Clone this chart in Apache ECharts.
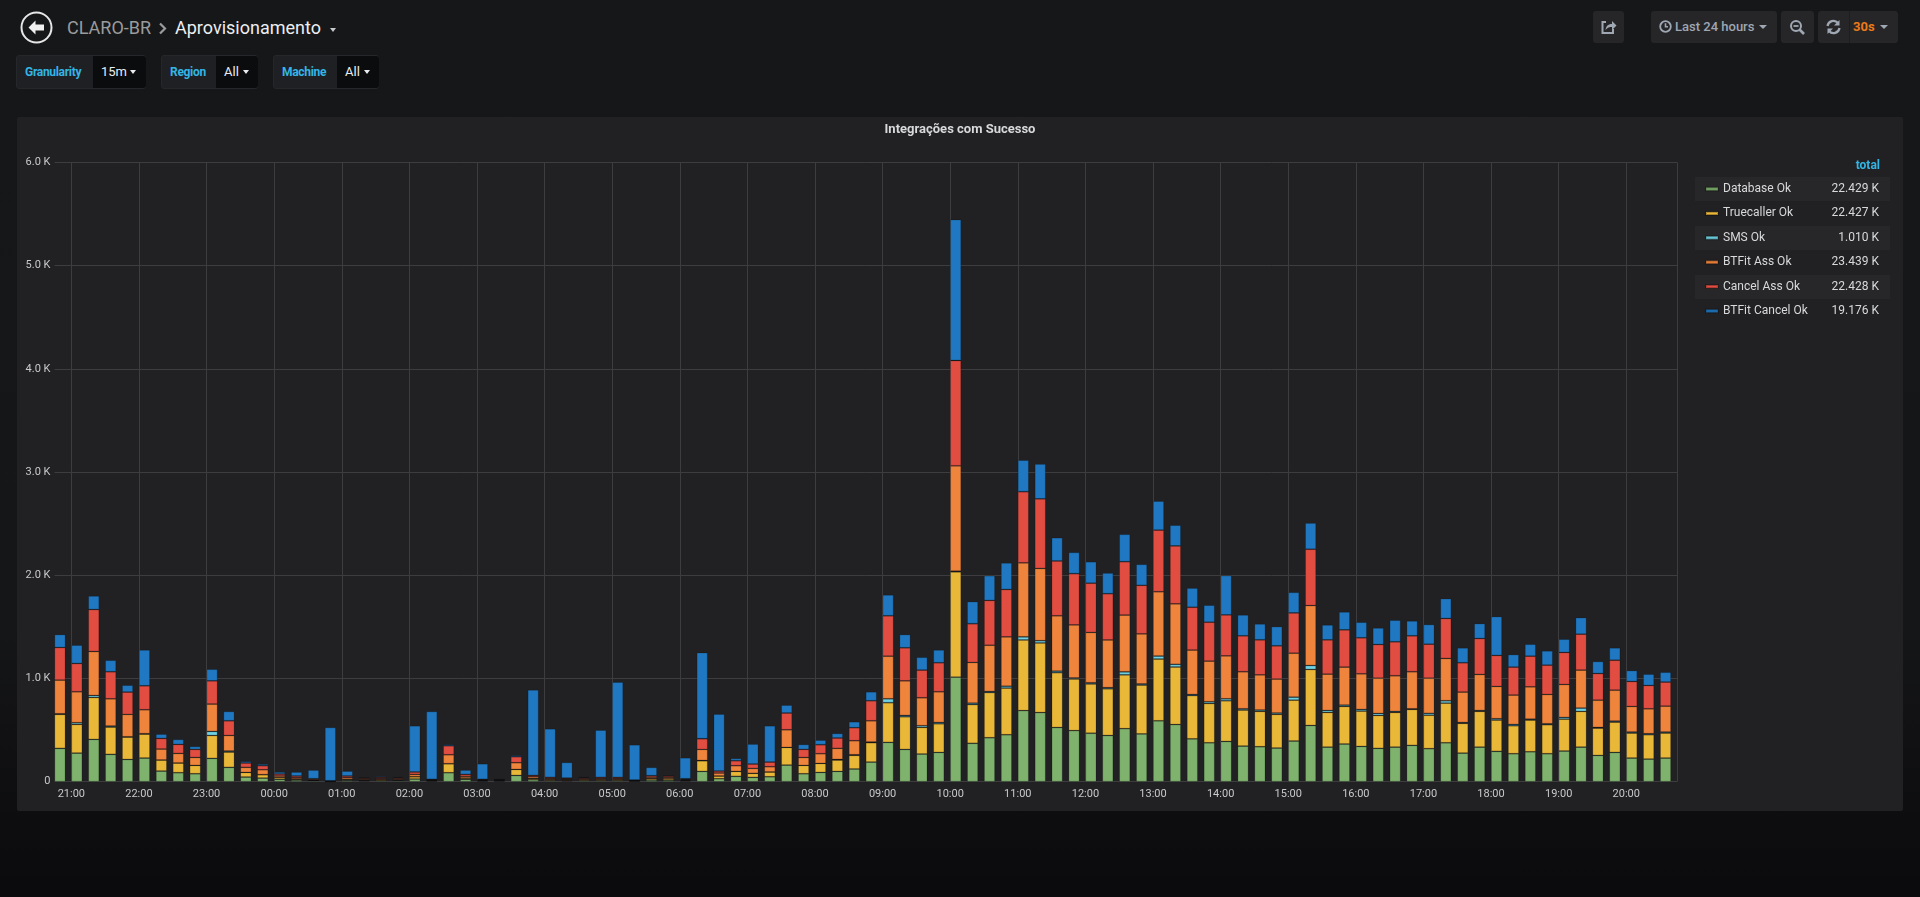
<!DOCTYPE html>
<html>
<head>
<meta charset="utf-8">
<title>Aprovisionamento</title>
<script src="https://cdn.jsdelivr.net/npm/echarts@6.0.0/dist/echarts.min.js"></script>
<style>
  html, body { margin: 0; padding: 0; }
  body {
    width: 1920px; height: 897px; overflow: hidden; position: relative;
    background: linear-gradient(#161719 0, #151618 70%, #0d0d0f 92%, #0b0b0d 100%);
    font-family: Roboto, "Noto Sans", sans-serif;
  }
  .abs { position: absolute; }
  .crumb { top: 15px; height: 26px; line-height: 26px; font-size: 18px; }
  .caret { width: 0; height: 0; border-left: 3.5px solid transparent; border-right: 3.5px solid transparent; border-top: 4px solid #c8c9ca; }
  .vbox { top: 55px; height: 34px; border: 1px solid #26272a; border-radius: 3px; box-sizing: border-box; background: #1f2023; }
  .vlabel { top: 0; height: 32px; line-height: 32px; font-size: 12px; font-weight: bold; color: #33b5e5; letter-spacing: -0.3px; }
  .vval { top: 0; height: 32px; background: #0b0c0e; border-radius: 0 3px 3px 0; }
  .vtext { top: 0; line-height: 32px; font-size: 13px; color: #e9edf2; }
  .btn { top: 11px; height: 32px; background: #262628; border-radius: 3px; }
  .legrow { left: 1695px; width: 195px; height: 24px; background: #27272a; }
</style>
</head>
<body>

<!-- dashboard header -->
<svg class="abs" style="left:20px;top:11px" width="33" height="33" viewBox="0 0 33 33">
  <circle cx="16.5" cy="16.5" r="15" fill="none" stroke="#e6e6e6" stroke-width="2"/>
  <path d="M8.5 16.5 L15.5 9.5 L15.5 13.5 L24 13.5 L24 19.5 L15.5 19.5 L15.5 23.5 Z" fill="#f0f0f0"/>
</svg>
<div class="abs crumb" style="left:67px;color:#9a9b9d">CLARO-BR</div>
<svg class="abs" style="left:158px;top:22px" width="10" height="13" viewBox="0 0 10 13">
  <path d="M2 1.5 L7 6.5 L2 11.5" fill="none" stroke="#9a9b9d" stroke-width="2.2"/>
</svg>
<div class="abs crumb" style="left:175px;color:#eceef1">Aprovisionamento</div>
<div class="abs caret" style="left:330px;top:28px"></div>

<!-- template variables -->
<div class="abs vbox" style="left:16px;width:130px">
  <div class="abs vlabel" style="left:8px">Granularity</div>
  <div class="abs vval" style="left:76px;width:53px">
    <div class="abs vtext" style="left:8px">15m</div>
    <div class="abs caret" style="left:37px;top:14px;border-top-color:#e9edf2"></div>
  </div>
</div>
<div class="abs vbox" style="left:161px;width:97px">
  <div class="abs vlabel" style="left:8px">Region</div>
  <div class="abs vval" style="left:54px;width:42px">
    <div class="abs vtext" style="left:8px">All</div>
    <div class="abs caret" style="left:27px;top:14px;border-top-color:#e9edf2"></div>
  </div>
</div>
<div class="abs vbox" style="left:273px;width:106px">
  <div class="abs vlabel" style="left:8px">Machine</div>
  <div class="abs vval" style="left:63px;width:42px">
    <div class="abs vtext" style="left:8px">All</div>
    <div class="abs caret" style="left:27px;top:14px;border-top-color:#e9edf2"></div>
  </div>
</div>

<!-- top right buttons -->
<div class="abs btn" style="left:1593px;width:31px">
  <svg class="abs" style="left:7px;top:8px" width="17" height="16" viewBox="0 0 17 16">
    <path d="M6 3 H2.5 V14 H13 V10" fill="none" stroke="#9fa7b3" stroke-width="2"/>
    <path d="M5.5 11 C6 6.5 9 5 12 5 V2 L16.5 6.5 L12 11 V8 C9.5 8 7.5 8.5 5.5 11 Z" fill="#9fa7b3"/>
  </svg>
</div>
<div class="abs btn" style="left:1651px;width:126px">
  <svg class="abs" style="left:8px;top:9px" width="13" height="13" viewBox="0 0 13 13">
    <circle cx="6.5" cy="6.5" r="5.3" fill="none" stroke="#9fa7b3" stroke-width="1.8"/>
    <path d="M6.5 3.3 V6.8 H9" fill="none" stroke="#9fa7b3" stroke-width="1.6"/>
  </svg>
  <div class="abs" style="left:24px;top:0;line-height:32px;font-size:13px;font-weight:500;color:#9fa7b3">Last 24 hours</div>
  <div class="abs caret" style="left:108px;top:14px;border-top-color:#9fa7b3;border-left-width:4px;border-right-width:4px"></div>
</div>
<div class="abs btn" style="left:1781px;width:33px">
  <svg class="abs" style="left:8px;top:8px" width="17" height="17" viewBox="0 0 17 17">
    <circle cx="7" cy="7" r="5" fill="none" stroke="#9fa7b3" stroke-width="2"/>
    <path d="M4.5 7 H9.5" stroke="#9fa7b3" stroke-width="1.8"/>
    <path d="M10.5 10.5 L15 15" stroke="#9fa7b3" stroke-width="2.6"/>
  </svg>
</div>
<div class="abs btn" style="left:1818px;width:80px">
  <svg class="abs" style="left:7px;top:8px" width="17" height="16" viewBox="0 0 17 16">
    <path d="M2.5 7 A6 6 0 0 1 13 4" fill="none" stroke="#9fa7b3" stroke-width="2.2"/>
    <path d="M14.5 1 V6.5 H9 Z" fill="#9fa7b3"/>
    <path d="M14.5 9 A6 6 0 0 1 4 12" fill="none" stroke="#9fa7b3" stroke-width="2.2"/>
    <path d="M2.5 15 V9.5 H8 Z" fill="#9fa7b3"/>
  </svg>
  <div class="abs" style="left:31px;top:0;width:1px;height:32px;background:#1d1e20"></div>
  <div class="abs" style="left:35px;top:0;line-height:32px;font-size:13px;font-weight:bold;color:#eb7b18">30s</div>
  <div class="abs caret" style="left:62px;top:14px;border-top-color:#9fa7b3;border-left-width:4px;border-right-width:4px"></div>
</div>

<!-- panel -->
<div class="abs" style="left:17px;top:117px;width:1886px;height:694px;background:#212124;border-radius:2px"></div>
<div class="abs legrow" style="top:177px"></div>
<div class="abs legrow" style="top:226px"></div>
<div class="abs legrow" style="top:275px"></div>

<div id="chart" class="abs" style="left:0;top:0;width:1920px;height:897px"></div>

<script>
// 15 minute buckets, last 24 hours
const categories = [
  '20:45','21:00','21:15','21:30','21:45','22:00','22:15','22:30','22:45','23:00','23:15','23:30',
  '23:45','00:00','00:15','00:30','00:45','01:00','01:15','01:30','01:45','02:00','02:15','02:30',
  '02:45','03:00','03:15','03:30','03:45','04:00','04:15','04:30','04:45','05:00','05:15','05:30',
  '05:45','06:00','06:15','06:30','06:45','07:00','07:15','07:30','07:45','08:00','08:15','08:30',
  '08:45','09:00','09:15','09:30','09:45','10:00','10:15','10:30','10:45','11:00','11:15','11:30',
  '11:45','12:00','12:15','12:30','12:45','13:00','13:15','13:30','13:45','14:00','14:15','14:30',
  '14:45','15:00','15:15','15:30','15:45','16:00','16:15','16:30','16:45','17:00','17:15','17:30',
  '17:45','18:00','18:15','18:30','18:45','19:00','19:15','19:30','19:45','20:00','20:15','20:30'
]

const seriesNames = ['Database Ok', 'Truecaller Ok', 'SMS Ok', 'BTFit Ass Ok', 'Cancel Ass Ok', 'BTFit Cancel Ok']
const seriesColors = ['#7eb26d', '#eab839', '#6ed0e0', '#ef843c', '#e24d42', '#1f78c1']
// legend "total" column
const legendTotals = [22429, 22427, 1010, 23439, 22428, 19176]

const databaseOk = [
  323,277,410,265,216,229,103,87,77,226, 139,45,35,23,16,10,2,13,8,10,
  10,26,5,87,23,5,5,61,19,10, 8,10,10,10,4,16,14,7,100,29,
  52,42,48,161,77,90,100,123,190,381, 313,268,284,1013,372,426,455,689,670,525,
  495,470,448,514,463,590,554,415,377,390, 345,339,326,394,545,335,365,342,323,335,
  352,320,377,277,335,294,271,290,271,297, 335,255,284,229,219,229
]
const truecallerOk = [
  329,278,406,264,216,232,107,94,81,222, 148,45,33,16,10,3,2,10,8,10,
  8,22,6,87,12,6,6,58,13,10, 9,10,10,10,4,14,14,7,103,26,
  48,39,46,171,81,87,110,132,188,384, 316,258,277,1020,375,437,452,684,674,531,
  500,477,452,521,473,598,557,419,381,394, 349,342,326,396,542,336,364,342,319,336,
  348,324,384,288,346,303,271,307,281,309, 346,264,293,242,236,242
]
const smsOk = [
  6,16,19,10,3,4,0,0,0,39, 10,0,0,0,0,0,0,0,0,0,
  0,0,0,0,0,0,0,0,0,0, 0,0,0,0,0,0,0,0,3,0,
  0,0,0,0,0,0,6,6,6,38, 13,16,13,7,14,11,18,30,22,15,
  10,11,11,29,11,29,26,11,16,19, 12,13,13,29,39,19,13,16,19,10,
  6,18,23,9,9,13,13,9,9,17, 32,7,10,10,10,10
]
const btfitAssOk = [
  326,300,426,264,217,232,106,93,77,265, 151,49,48,16,13,6,2,16,10,10,
  10,23,6,87,17,6,6,65,16,11, 9,10,11,11,4,14,14,7,107,29,
  55,48,51,171,77,94,107,136,206,413, 335,271,297,1020,394,448,478,717,700,536,
  514,488,462,550,485,623,586,430,394,416, 359,341,329,426,580,352,368,345,342,345,
  359,341,410,294,349,313,284,313,284,319, 368,264,300,248,241,251
]
const cancelAssOk = [
  316,274,407,262,216,232,103,87,78,225, 142,42,39,19,16,10,3,16,10,12,
  10,23,6,87,19,6,6,58,13,11, 9,10,11,11,4,14,13,8,103,19,
  48,42,45,162,78,87,100,126,194,391, 320,268,281,1020,375,434,459,689,674,531,
  496,477,448,517,470,597,561,415,377,397, 348,339,322,390,546,332,361,349,326,329,
  348,329,387,284,348,300,271,297,284,310, 348,258,290,242,226,233
]
const btfitCancelOk = [
  126,178,132,112,67,348,42,49,29,113, 91,16,16,20,39,84,517,48,3,10,
  7,448,658,13,42,151,0,13,829,471, 152,2,458,923,342,81,0,203,835,552,
  23,194,352,77,48,45,45,58,87,203, 129,125,125,1366,215,240,258,306,338,226,
  207,208,201,266,204,281,201,186,165,381, 203,155,187,200,254,145,174,151,161,210,
  145,191,193,145,145,377,122,116,139,129, 161,117,120,106,110,96
]

const seriesData = [databaseOk, truecallerOk, smsOk, btfitAssOk, cancelAssOk, btfitCancelOk]
const totalsByName = {}
seriesNames.forEach((n, i) => { totalsByName[n] = (legendTotals[i] / 1000).toFixed(3) + ' K' })

const isHour = (idx, val) => val.slice(3) === '00'

const chart = echarts.init(document.getElementById('chart'), null, { renderer: 'canvas' })
chart.setOption({
  backgroundColor: 'transparent',
  animation: false,
  textStyle: { fontFamily: 'Roboto, "Noto Sans", sans-serif' },
  title: {
    text: 'Integrações com Sucesso',
    left: 'center',
    top: 123,
    padding: 0,
    textStyle: { color: '#d8d9da', fontSize: 13, fontWeight: 'bold' }
  },
  graphic: [{
    type: 'text',
    right: 40,
    top: 160,
    style: { text: 'total', fill: '#33b5e5', font: 'bold 12px Roboto', textAlign: 'right' }
  }],
  legend: {
    orient: 'vertical',
    left: 1705,
    top: 177,
    padding: 0,
    itemGap: 0.4,
    itemWidth: 12,
    itemHeight: 3,
    itemTextGap: 7,
    icon: 'rect',
    data: seriesNames,
    formatter: name => '{n|' + name + '}{v|' + totalsByName[name] + '}',
    textStyle: {
      color: '#d8d9da',
      fontSize: 12,
      lineHeight: 24,
      rich: {
        n: { width: 100, fontSize: 12, lineHeight: 24, color: '#d8d9da' },
        v: { width: 56, fontSize: 12, lineHeight: 24, align: 'right', color: '#d8d9da' }
      }
    }
  },
  // grid 0 carries the visible axes, grid 1 (same size, shifted 3px left)
  // carries the bars so each bar starts at its bucket's time line
  grid: [
    { left: 54.5, right: 243, top: 162.3, bottom: 115.3, containLabel: false },
    { left: 51.5, right: 246, top: 162.3, bottom: 115.3, containLabel: false }
  ],
  xAxis: [{
    type: 'category',
    gridIndex: 0,
    data: categories,
    boundaryGap: true,
    axisLine: { show: false },
    axisTick: { show: false },
    axisLabel: {
      interval: isHour,
      color: '#c8c9ca',
      fontSize: 11,
      margin: 7,
      padding: [0, 17, 0, 0]
    },
    splitLine: { show: true, interval: isHour, lineStyle: { color: '#3d3d40', width: 1 } }
  }, {
    type: 'category',
    gridIndex: 1,
    data: categories,
    boundaryGap: true,
    show: false
  }],
  yAxis: [{
    type: 'value',
    gridIndex: 0,
    min: 0,
    max: 6000,
    interval: 1000,
    axisLine: { show: false },
    axisTick: { show: false },
    axisLabel: {
      color: '#c8c9ca',
      fontSize: 11,
      margin: 4,
      formatter: v => v === 0 ? '0' : (v / 1000).toFixed(1) + ' K'
    },
    splitLine: { lineStyle: { color: '#3d3d40', width: 1 } }
  }, {
    type: 'value',
    gridIndex: 1,
    min: 0,
    max: 6000,
    interval: 1000,
    show: false,
    splitLine: { show: false }
  }],
  series: seriesNames.map((name, i) => ({
    name: name,
    type: 'bar',
    stack: 'total',
    xAxisIndex: 1,
    yAxisIndex: 1,
    barWidth: 11,
    data: seriesData[i],
    itemStyle: { color: seriesColors[i], borderColor: 'rgba(0,0,0,0.22)', borderWidth: 0.8 }
  }))
})
</script>
</body>
</html>
